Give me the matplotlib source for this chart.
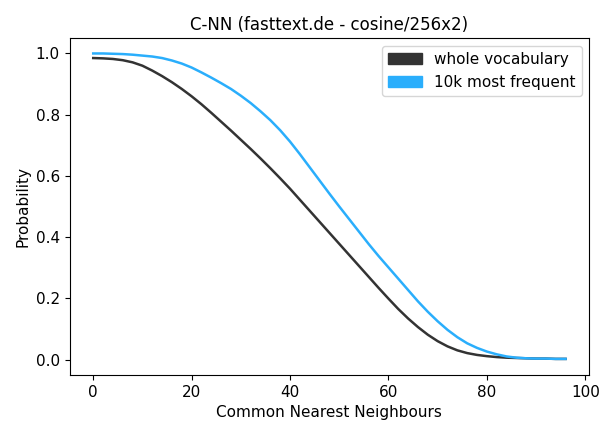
import matplotlib
matplotlib.use('Agg')
import matplotlib.pyplot as plt
import matplotlib.patches as mpatches

# Common nearest neighbours (every 2)
x = list(range(0, 97, 2))

whole_vocab = [0.985, 0.984, 0.982, 0.978, 0.971, 0.960, 0.944, 0.926, 0.906, 0.884,
               0.860, 0.834, 0.806, 0.777, 0.748, 0.718, 0.688, 0.657, 0.625, 0.592,
               0.558, 0.522, 0.486, 0.450, 0.414, 0.378, 0.342, 0.306, 0.270, 0.234,
               0.199, 0.165, 0.134, 0.106, 0.081, 0.060, 0.043, 0.030, 0.021, 0.015,
               0.011, 0.008, 0.006, 0.005, 0.004, 0.003, 0.003, 0.002, 0.002]

top10k = [1.000, 1.000, 0.999, 0.998, 0.996, 0.993, 0.990, 0.985, 0.977, 0.967,
          0.954, 0.938, 0.921, 0.903, 0.884, 0.862, 0.838, 0.811, 0.782, 0.749,
          0.712, 0.671, 0.628, 0.585, 0.542, 0.500, 0.459, 0.418, 0.377, 0.338,
          0.301, 0.264, 0.227, 0.190, 0.156, 0.125, 0.097, 0.073, 0.053, 0.038,
          0.026, 0.017, 0.010, 0.006, 0.004, 0.003, 0.003, 0.002, 0.002]

labels = ['whole vocabulary', '10k most frequent']
colors = ['#333333', '#2aaefc']

plt.rcParams['font.size'] = 11

fig = plt.figure(figsize=(6, 4.24), dpi=100)
ax = fig.add_axes([0.116, 0.116, 0.866, 0.794])

ax.plot(x, whole_vocab, color=colors[0], linewidth=1.8)
ax.plot(x, top10k, color=colors[1], linewidth=1.8)

ax.set_xlim(-4.8, 100.8)
ax.set_ylim(-0.05, 1.05)
ax.set_xticks([0, 20, 40, 60, 80, 100])
ax.set_yticks([0.0, 0.2, 0.4, 0.6, 0.8, 1.0])

ax.set_xlabel('Common Nearest Neighbours')
ax.set_ylabel('Probability')
ax.set_title('C-NN (fasttext.de - cosine/256x2)', fontsize=12)

handles = [mpatches.Patch(color=c, label=l) for c, l in zip(colors, labels)]
ax.legend(handles=handles, loc='upper right', handlelength=2.2)

plt.savefig('out.png', dpi=100)
